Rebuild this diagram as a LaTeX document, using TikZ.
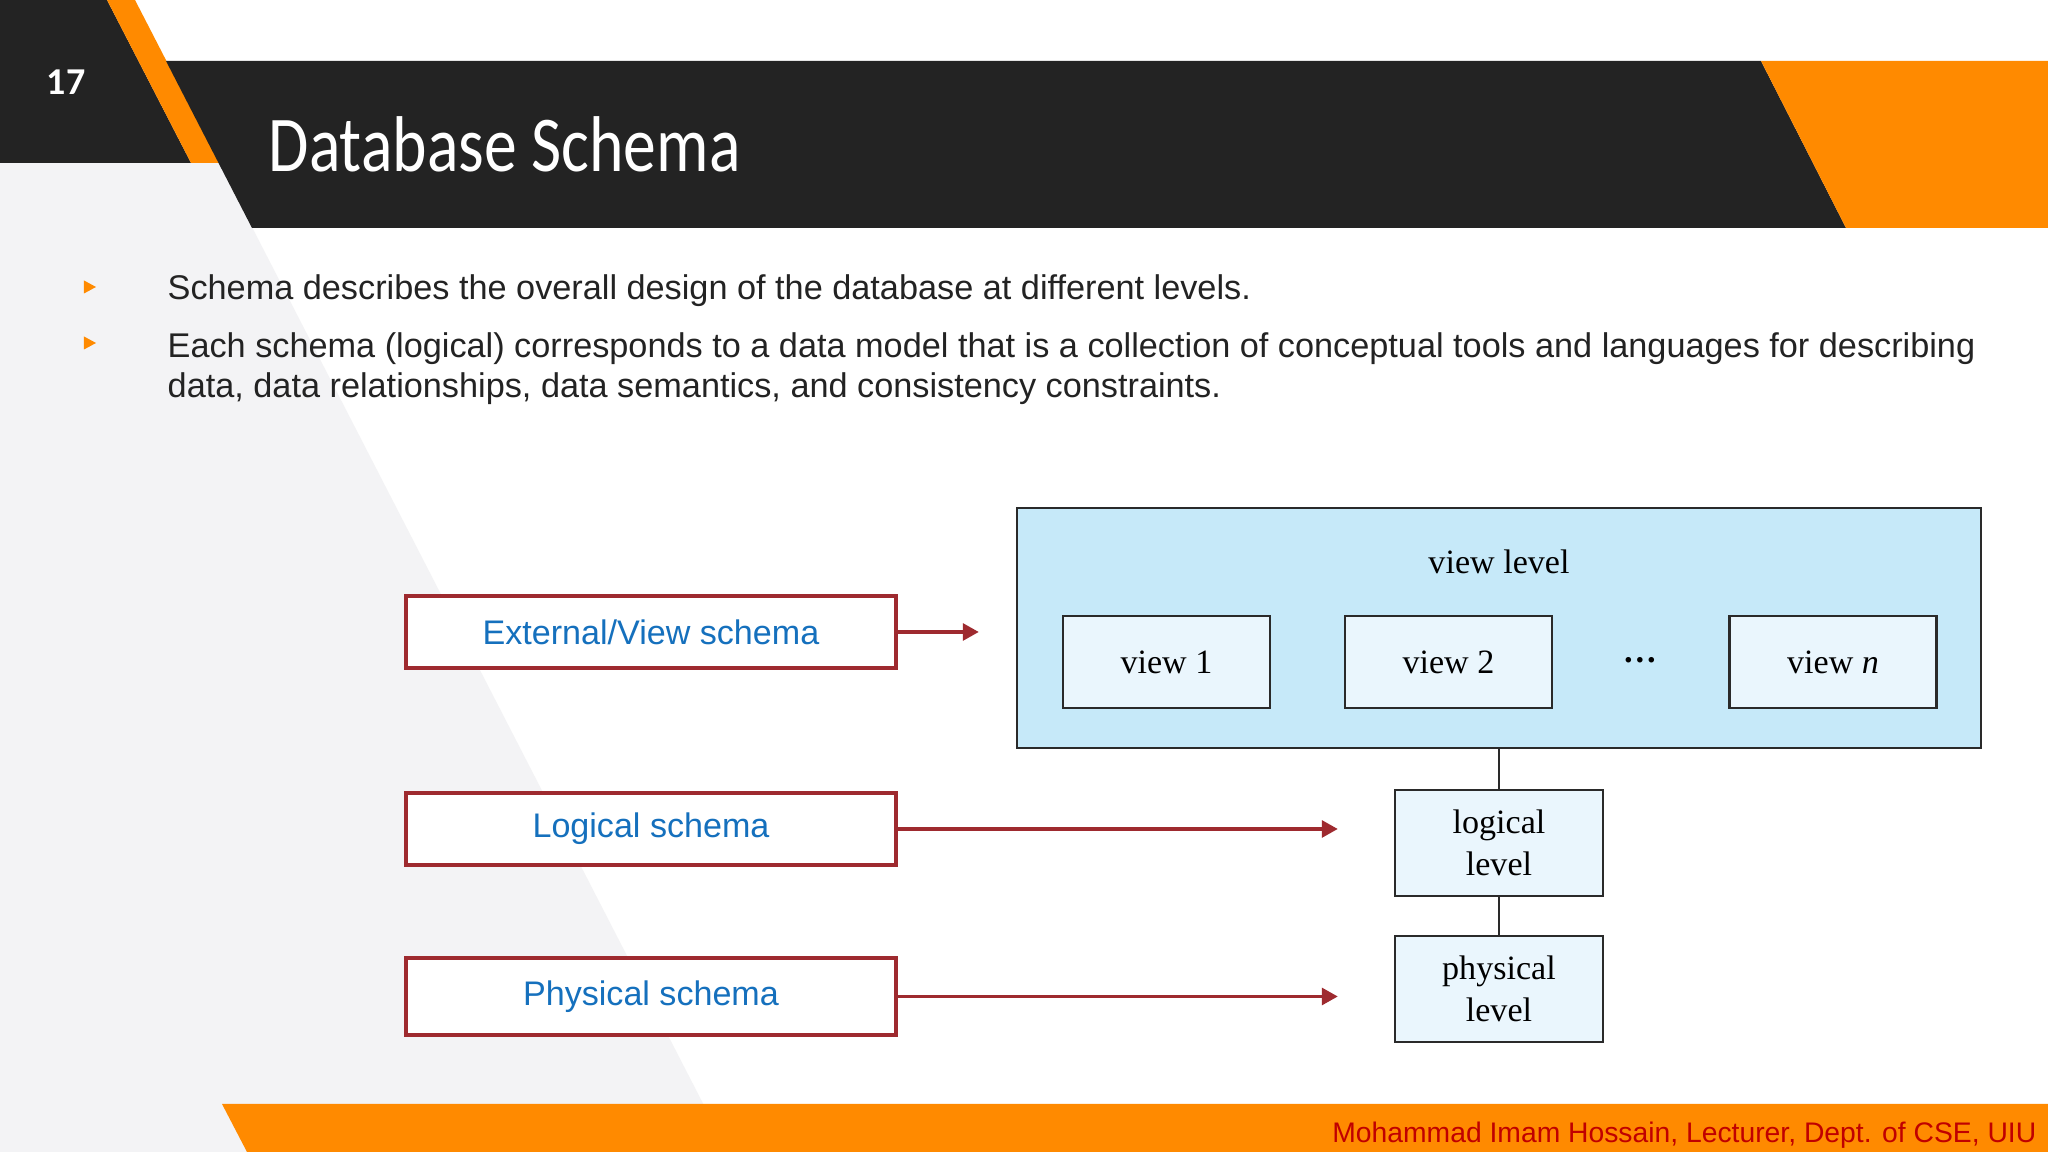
\documentclass[tikz,border=0pt]{standalone}
\usepackage{fontspec}
\setmainfont{Liberation Sans}
\newfontfamily\timesfont{Liberation Serif}
\newfontfamily\headfont{Carlito}
\newfontfamily\titlefont{Carlito}[FakeStretch=0.83]
\usepackage{tikz}
\usetikzlibrary{arrows.meta,positioning}
\definecolor{dbDark}{HTML}{232323}
\definecolor{dbOrange}{HTML}{FF8A00}
\definecolor{dbGrey}{HTML}{F3F3F5}
\definecolor{dbRed}{HTML}{9E2A2F}
\definecolor{dbBlue}{HTML}{1570BD}
\definecolor{dbSky}{HTML}{C6E9F9}
\definecolor{dbIce}{HTML}{EAF6FD}
\definecolor{dbLine}{HTML}{2A2A2A}
\definecolor{dbFoot}{HTML}{C00000}

\begin{document}
\begin{tikzpicture}[
    schema/.style={draw=dbRed,line width=0.9pt,fill=white,minimum width=49mm,
                   minimum height=7.2mm,text=dbBlue,font=\fontsize{9.7}{11}\selectfont},
    lvl/.style={draw=dbLine,line width=0.7pt,fill=dbIce,minimum width=20.7mm,
                minimum height=9.2mm,align=center,font=\timesfont\fontsize{9.7}{11.8}\selectfont},
    body/.style={anchor=base west,inner sep=0pt,text=dbDark,font=\fontsize{9.75}{11.4}\selectfont},
    ar/.style={-{Triangle[length=1.6mm,width=1.7mm]},draw=dbRed,line width=0.9pt},
    link/.style={draw=dbLine,line width=0.7pt}
  ]
    \useasboundingbox (0,0) rectangle (20.48,11.52);
    \fill[white] (0,0) rectangle (20.48,11.52);

    % slide background
    \fill[dbGrey]   (0,9.89) -- (2.19,9.89) -- (7.28,0) -- (0,0) -- cycle;
    \fill[dbDark]   (0,11.52) -- (1.07,11.52) -- (1.91,9.89) -- (0,9.89) -- cycle;
    \fill[dbOrange] (1.07,11.52) -- (1.35,11.52) -- (2.19,9.89) -- (1.91,9.89) -- cycle;
    \fill[dbDark]   (1.66,10.91) -- (17.61,10.91) -- (18.46,9.24) -- (2.52,9.24) -- cycle;
    \fill[dbOrange] (17.61,10.91) -- (20.48,10.91) -- (20.48,9.24) -- (18.46,9.24) -- cycle;
    \fill[dbOrange] (2.22,0.48) -- (20.48,0.48) -- (20.48,0) -- (2.47,0) -- cycle;

    \node[text=white,font=\headfont\bfseries\fontsize{10.8}{12}\selectfont] (num) at (0.66,10.70) {17};
    \node[anchor=base west,inner sep=0pt,text=white,font=\titlefont\fontsize{22.5}{26}\selectfont]
      (title) at (2.68,9.80) {Database Schema};

    % bullets
    \foreach \y in {8.65,8.09}
      \fill[dbOrange] (0.84,\y+0.065) -- (0.96,\y) -- (0.84,\y-0.065) -- cycle;
    \node[body] (pt1)  at (1.67,8.52) {Schema describes the overall design of the database at different levels.};
    \node[body] (pt2)  at (1.67,7.94) {Each schema (logical) corresponds to a data model that is a collection of conceptual tools and languages for describing};
    \node[body] (pt2b) at (1.67,7.54) {data, data relationships, data semantics, and consistency constraints.};

    % schema boxes
    \node[schema] (ext)    at (6.51,5.20)  {External/View schema};
    \node[schema] (logsch) at (6.51,3.23)  {Logical schema};
    \node[schema,minimum height=7.7mm] (physch) at (6.51,1.555) {Physical schema};

    % levels
    \node[lvl,fill=dbSky,minimum width=96.4mm,minimum height=24mm] (viewlvl) at (14.99,5.24) {};
    \node[font=\timesfont\fontsize{9.7}{11.8}\selectfont] (vtitle) at (14.99,5.90) {view level};
    \node[lvl] (view1) at (11.665,4.90) {view 1};
    \node[lvl] (view2) at (14.485,4.90) {view 2};
    \node[font=\timesfont\bfseries\fontsize{9.7}{11.8}\selectfont] (dots) at (16.40,4.92) {\ldots};
    \node[lvl] (viewn) at (18.33,4.90) {view \textit{n}};
    \node[lvl,minimum width=20.8mm,minimum height=10.6mm] (logical)  at (14.99,3.09) {logical\\level};
    \node[lvl,minimum width=20.8mm,minimum height=10.6mm] (physical) at (14.99,1.63) {physical\\level};

    \draw[link] (viewlvl.south) -- (logical.north);
    \draw[link] (logical.south) -- (physical.north);

    \draw[ar,shorten >=3.7mm] (ext.east)    -- (ext.east -| viewlvl.west);
    \draw[ar,shorten >=5.6mm] (logsch.east) -- (logsch.east -| logical.west);
    \draw[ar,shorten >=5.6mm] (physch.east) -- (physch.east -| physical.west);

    \node[anchor=east,inner sep=0pt,text=dbFoot,font=\fontsize{8.05}{9}\selectfont] (foot) at (20.37,0.17)
      {Mohammad Imam Hossain, Lecturer, Dept. of CSE, UIU};
  \end{tikzpicture}
\end{document}
